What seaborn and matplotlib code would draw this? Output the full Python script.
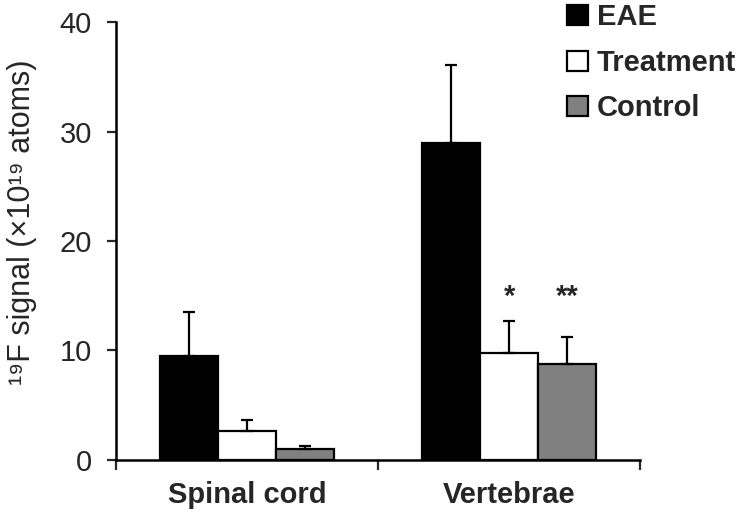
"""19F signal bar chart: EAE vs Treatment vs Control."""

import pandas as pd
import seaborn as sns
from matplotlib import pyplot as plt
from matplotlib.ticker import FixedLocator

tissues = ["Spinal cord", "Vertebrae"]
groups = ["EAE", "Treatment", "Control"]
eae = [9.5, 29.0]
eae_err = [4.0, 7.1]
treatment = [2.6, 9.75]
treatment_err = [1.0, 2.95]
control = [1.0, 8.8]
control_err = [0.25, 2.45]
stars = {("Vertebrae", "Treatment"): "*", ("Vertebrae", "Control"): "**"}

sns.set_style("white")
plt.rcParams["font.family"] = ["Liberation Sans", "DejaVu Sans"]

rows = []
for g, vals, errs in zip(groups, [eae, treatment, control],
                         [eae_err, treatment_err, control_err]):
    for t, v, e in zip(tissues, vals, errs):
        rows.append({"Tissue": t, "Group": g, "Signal": v, "Err": e})
df = pd.DataFrame(rows)

fig = plt.figure(figsize=(7.4, 5.15), dpi=100)
ax = fig.add_axes([0.157, 0.107, 0.708, 0.850])

palette = {"EAE": "black", "Treatment": "white", "Control": "#808080"}
sns.barplot(data=df, x="Tissue", y="Signal", hue="Group", order=tissues,
            hue_order=groups, palette=palette, edgecolor="black",
            linewidth=1.6, width=0.665, errorbar=None, saturation=1, ax=ax)

# one-sided error bars on top of each bar
for g, cont in zip(groups, ax.containers):
    sub = df[df["Group"] == g].set_index("Tissue").loc[tissues]
    xs = [p.get_x() + p.get_width() / 2 for p in cont.patches]
    hs = [p.get_height() for p in cont.patches]
    ax.errorbar(xs, hs, yerr=[[0] * len(hs), sub["Err"].tolist()], fmt="none",
                ecolor="black", elinewidth=1.6, capsize=4, capthick=1.6, zorder=1)
    for x, t in zip(xs, tissues):
        if (t, g) in stars:
            ax.text(x, 13.6, stars[(t, g)], ha="center", va="bottom",
                    fontsize=21, fontweight="bold")

ax.set_ylim(0, 40)
ax.set_xlim(-0.5, 1.5)
ax.set_yticks([0, 10, 20, 30, 40])
ax.tick_params(axis="y", direction="out", length=6.5, width=1.6, labelsize=21,
               pad=11, left=True)
ax.tick_params(axis="x", which="major", length=0, pad=15, labelsize=21)
ax.xaxis.set_minor_locator(FixedLocator([-0.5, 0.5, 1.5]))
ax.tick_params(axis="x", which="minor", direction="out", length=7, width=1.6,
               bottom=True)
for lab in ax.get_xticklabels():
    lab.set_fontweight("bold")

ax.set_xlabel("")
ax.set_ylabel("¹⁹F signal (×10¹⁹ atoms)", fontsize=22)
ax.yaxis.set_label_coords(-0.152, 0.543)
sns.despine(ax=ax)
for s in ["left", "bottom"]:
    ax.spines[s].set_linewidth(1.8)
    ax.spines[s].set_color("black")

sns.move_legend(ax, loc="upper left", bbox_to_anchor=(0.751, 1.016),
                bbox_transform=fig.transFigure, frameon=False, title=None,
                prop={"weight": "bold", "size": 21}, handlelength=0.7,
                handleheight=0.7, handletextpad=0.3, labelspacing=0.6,
                borderaxespad=0)

plt.savefig("out.png", dpi=100)
